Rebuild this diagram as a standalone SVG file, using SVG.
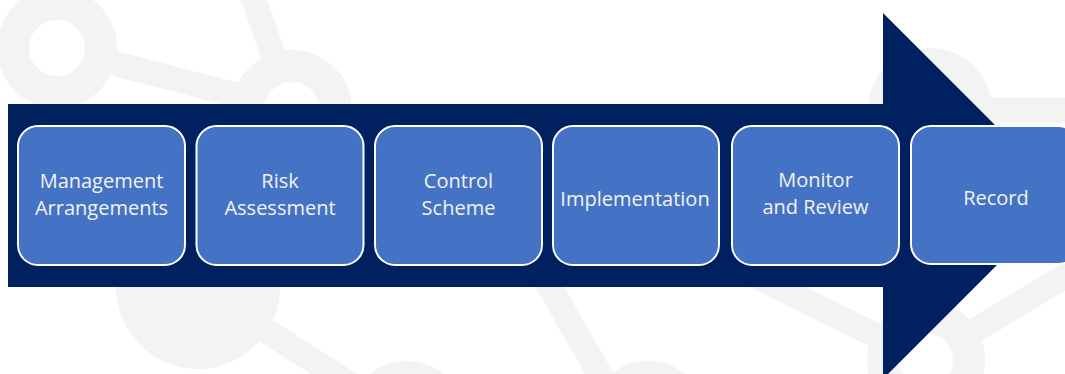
<svg xmlns="http://www.w3.org/2000/svg" width="1065" height="374" viewBox="0 0 1065 374">
<style>
.band{stroke:#F3F3F3;stroke-width:25;fill:none}
.ring{fill:none;stroke:#F3F3F3;stroke-width:32}
.box{fill:#4472C4;stroke:#FFFFFF;stroke-width:2}
.lbl{font-family:"Open Sans","Liberation Sans",sans-serif;font-size:20px;fill:#F2F2F2;text-anchor:middle}
</style>
<rect width="1065" height="374" fill="#FFFFFF"/>
<g id="background">
<line class="band" x1="105" y1="61" x2="244" y2="97"/>
<line class="band" x1="250" y1="-12" x2="276" y2="63"/>
<line class="band" x1="198" y1="287" x2="365" y2="394"/>
<line class="band" x1="520" y1="235" x2="603" y2="380"/>
<line class="band" x1="740" y1="268" x2="881" y2="338"/>
<line class="band" x1="969" y1="334" x2="1100" y2="255"/>
<line class="band" x1="976" y1="110" x2="1070" y2="110"/>
<circle class="ring" cx="57" cy="48" r="44"/>
<circle class="ring" cx="292" cy="110" r="44"/>
<circle cx="198" cy="287" r="82" fill="#F3F3F3"/>
<circle class="ring" cx="407" cy="421" r="44"/>
<circle class="ring" cx="648" cy="421" r="44"/>
<circle class="ring" cx="926" cy="360" r="43"/>
<circle class="ring" cx="930" cy="110" r="46"/>
</g>
<g id="arrow">
<polygon points="8,104 883,104 883,13 1066,196 883,379 883,287 8,287" fill="#002060"/>
</g>
<g id="connectors"></g>
<g id="node1">
<rect class="box" x="18" y="126" width="167" height="139" rx="20"/>
<text class="lbl" x="101.5" y="188">Management</text>
<text class="lbl" x="101.5" y="215">Arrangements</text>
</g>
<g id="node2">
<rect class="box" x="196.5" y="126" width="167" height="139" rx="20"/>
<text class="lbl" x="280" y="188">Risk</text>
<text class="lbl" x="280" y="215">Assessment</text>
</g>
<g id="node3">
<rect class="box" x="375" y="126" width="167" height="139" rx="20"/>
<text class="lbl" x="458.5" y="188">Control</text>
<text class="lbl" x="458.5" y="215">Scheme</text>
</g>
<g id="node4">
<rect class="box" x="553" y="126" width="166" height="139" rx="20"/>
<text class="lbl" x="635" y="206">Implementation</text>
</g>
<g id="node5">
<rect class="box" x="732" y="126" width="167" height="139" rx="20"/>
<text class="lbl" x="815.5" y="187">Monitor</text>
<text class="lbl" x="815.5" y="214">and Review</text>
</g>
<g id="node6">
<rect class="box" x="911" y="126" width="167" height="138" rx="20"/>
<text class="lbl" x="996" y="205">Record</text>
</g>
</svg>
